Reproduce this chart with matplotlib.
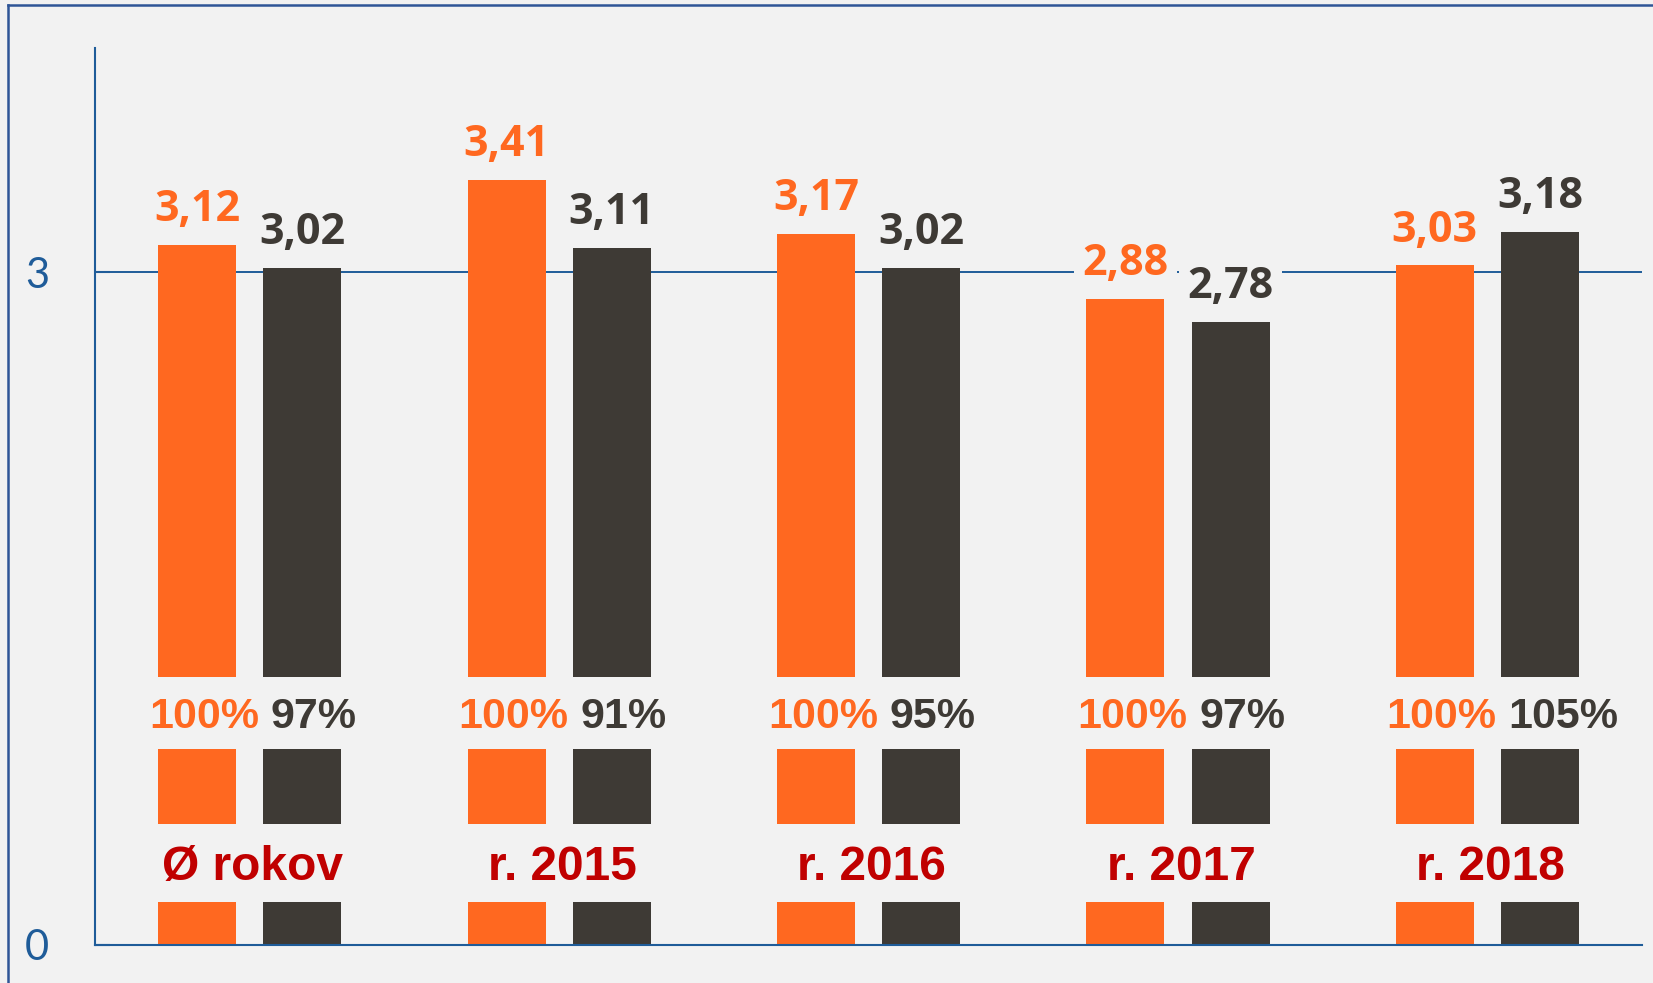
import matplotlib.pyplot as plt
from matplotlib.lines import Line2D
import numpy as np

categories = ["Ø rokov", "r. 2015", "r. 2016", "r. 2017", "r. 2018"]
orange_vals = [3.12, 3.41, 3.17, 2.88, 3.03]
dark_vals = [3.02, 3.11, 3.02, 2.78, 3.18]
orange_pct = [100, 100, 100, 100, 100]
dark_pct = [97, 91, 95, 97, 105]

BG = '#F2F2F2'
ORANGE = '#FF6820'
DARK = '#3E3A35'
BLUE = '#1F5C99'
RED = '#C00000'

fig = plt.figure(figsize=(16.53, 9.83), dpi=100, facecolor=BG)
ax = fig.add_axes([0.0575, 0.0387, 0.9359, 0.9125])
ax.set_facecolor(BG)

x = np.arange(len(categories))
w = 0.252
off = 0.17

# gridline at 3
ax.axhline(3, color=BLUE, lw=1.4, zorder=1)

ax.bar(x - off, orange_vals, w, color=ORANGE, zorder=2)
ax.bar(x + off, dark_vals, w, color=DARK, zorder=2)

# value labels above bars
for xi, v in zip(x, orange_vals):
    ax.annotate(f"{v:.2f}".replace('.', ','), (xi - off, v), xytext=(0, 10),
                textcoords='offset points', ha='center', va='bottom',
                fontsize=31, fontweight='bold', family='Open Sans', color=ORANGE,
                bbox=dict(boxstyle='square,pad=0.2', fc=BG, ec='none'), zorder=4)
for xi, v in zip(x, dark_vals):
    ax.annotate(f"{v:.2f}".replace('.', ','), (xi + off, v), xytext=(0, 10),
                textcoords='offset points', ha='center', va='bottom',
                fontsize=31, fontweight='bold', family='Open Sans', color=DARK,
                bbox=dict(boxstyle='square,pad=0.2', fc=BG, ec='none'), zorder=4)

# bands cut through the bars
ax.axhspan(0.874, 1.195, color=BG, lw=0, zorder=3)
ax.axhspan(0.192, 0.539, color=BG, lw=0, zorder=3)

# percentages
for xi, po, pd in zip(x, orange_pct, dark_pct):
    ax.text(xi + 0.03, 1.015, f"{po}%", ha='right', va='center', fontsize=31,
            fontweight='bold', family='Liberation Sans', color=ORANGE, zorder=5)
    ax.text(xi + 0.068, 1.015, f"{pd}%", ha='left', va='center', fontsize=31,
            fontweight='bold', family='Liberation Sans', color=DARK, zorder=5)

# category labels
for xi, c in zip(x, categories):
    ax.text(xi + 0.01, 0.345, c, ha='center', va='center', fontsize=34.5,
            fontweight='bold', family='Liberation Sans', color=RED, zorder=5)

ax.set_xlim(-0.5, 4.5)
ax.set_ylim(0, 4)
ax.set_xticks([])
ax.set_yticks([0, 3])
ax.set_yticklabels(['0', '3'], family='Lato', fontsize=30, color=BLUE)
ax.tick_params(axis='y', direction='in', length=11, width=1.5, color=BLUE, pad=33)

for s in ['top', 'right']:
    ax.spines[s].set_visible(False)
for s in ['left', 'bottom']:
    ax.spines[s].set_color(BLUE)
    ax.spines[s].set_linewidth(1.5)
    ax.spines[s].set_zorder(6)

# outer frame (top and left edges)
W, H = 1653, 983
fig.add_artist(Line2D([8 / W, 1], [1 - 5 / H, 1 - 5 / H], color='#2F5597', lw=1.8))
fig.add_artist(Line2D([8 / W, 8 / W], [0, 1 - 5 / H], color='#2F5597', lw=1.8))

fig.savefig('out.png', dpi=100, facecolor=BG)
